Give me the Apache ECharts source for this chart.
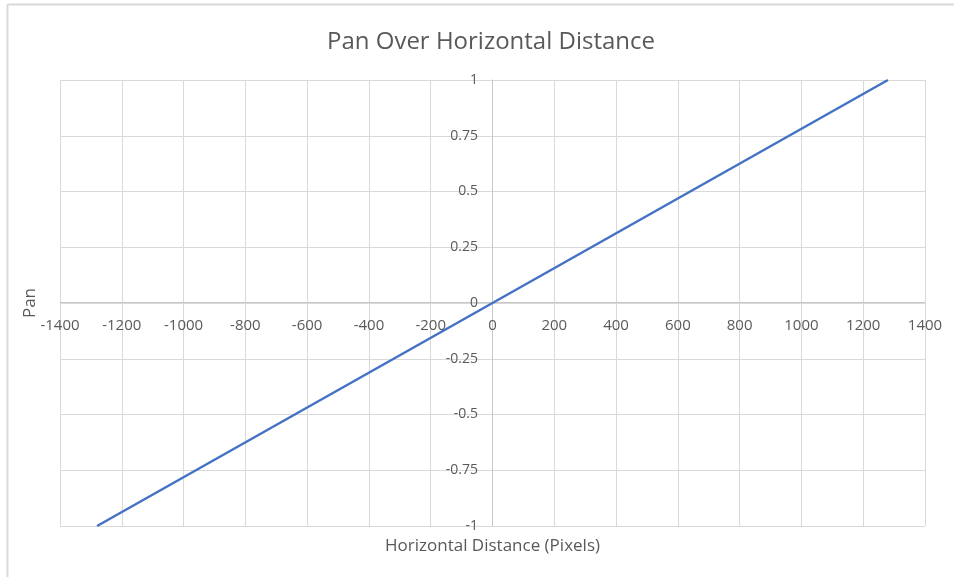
<!DOCTYPE html>
<html>
<head>
<meta charset="utf-8">
<script src="https://cdn.jsdelivr.net/npm/echarts@6/dist/echarts.min.js"></script>
<style>html,body{margin:0;padding:0;background:#fff;}#c{width:954px;height:577px;}</style>
</head>
<body>
<div id="c"></div>
<script>
const titleText = 'Pan Over Horizontal Distance';
const xTitle = 'Horizontal Distance (Pixels)';
const yTitle = 'Pan';
const xValues = [-1280, 0, 1280];
const panValues = [-1, 0, 1];

const chart = echarts.init(document.getElementById('c'));
const font = 'Open Sans';
const txt = '#595959';
chart.setOption({
  animation: false,
  backgroundColor: '#fff',
  title: {
    text: titleText, left: 322, top: 25,
    textStyle: {fontFamily: font, fontSize: 24, fontWeight: 'normal', color: txt}
  },
  grid: {left: 60, right: 29, top: 80, bottom: 51},
  xAxis: {
    type: 'value', min: -1400, max: 1400, interval: 200,
    offset: -224,
    axisLine: {onZero: false, lineStyle: {color: '#c8c8c8', width: 1}},
    axisTick: {show: false},
    axisLabel: {fontFamily: font, fontSize: 15, color: txt, margin: 16, formatter: v => String(v)},
    splitLine: {show: true, lineStyle: {color: '#d9d9d9', width: 1}}
  },
  yAxis: {
    type: 'value', min: -1, max: 1, interval: 0.25,
    offset: -432,
    axisLine: {show: true, onZero: false, lineStyle: {color: '#c8c8c8', width: 1}},
    axisTick: {show: false},
    axisLabel: {fontFamily: font, fontSize: 14, color: txt, margin: 14},
    splitLine: {show: true, lineStyle: {color: '#d9d9d9', width: 1}}
  },
  series: [{
    type: 'line', data: xValues.map((x, i) => [x, panValues[i]]),
    showSymbol: false, symbol: 'none',
    lineStyle: {color: '#4472c4', width: 2.5}
  }],
  graphic: [
    {type: 'line', shape: {x1: 7.5, y1: 4.5, x2: 954, y2: 4.5}, style: {stroke: '#d9d9d9', lineWidth: 2}},
    {type: 'line', shape: {x1: 7.5, y1: 4.5, x2: 7.5, y2: 577}, style: {stroke: '#d9d9d9', lineWidth: 2}},
    {type: 'text', x: 492.5, y: 546, style: {text: xTitle, fontFamily: font, fontSize: 17, fill: txt, align: 'center', verticalAlign: 'middle'}},
    {type: 'text', x: 30, y: 303, rotation: Math.PI / 2, style: {text: yTitle, fontFamily: font, fontSize: 17, fill: txt, align: 'center', verticalAlign: 'middle'}}
  ]
});
</script>
</body>
</html>
